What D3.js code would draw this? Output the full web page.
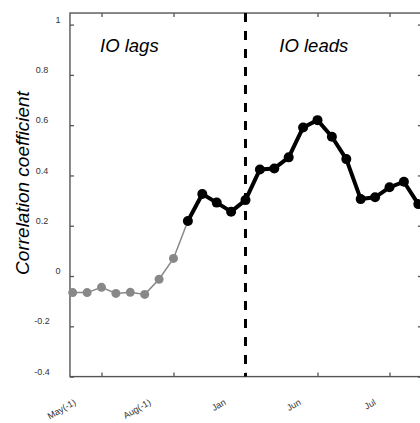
<!DOCTYPE html>
<html>
<head>
<meta charset="utf-8">
<script src="https://cdn.jsdelivr.net/npm/d3@7"></script>
<style>
  body { margin: 0; background: #fff; }
  text { font-family: "Liberation Sans", Arial, sans-serif; }
</style>
</head>
<body>
<div class="chart"></div>
<script>
// monthly correlation, index 0 = first month shown
const lagCorr = [-0.066, -0.066, -0.045, -0.069, -0.065, -0.073, -0.013, 0.070, 0.219]
const leadCorr = [0.219, 0.326, 0.292, 0.256, 0.302, 0.424, 0.428, 0.472, 0.591,
                  0.620, 0.554, 0.465, 0.306, 0.313, 0.353, 0.375, 0.286]
const leadStart = 8
const splitIndex = 12

const xTicks = [2, 7, 12, 17, 22]
const xTickLabels = ['May(-1)', 'Aug(-1)', 'Jan', 'Jun', 'Jul']
const yTicks = [-0.4, -0.2, 0, 0.2, 0.4, 0.6, 0.8, 1]

const W = 420
const H = 423

const x = d3.scaleLinear()
  .domain([0, 24])
  .range([72.7, 418.3])
const y = d3.scaleLinear()
  .domain([-0.4, 1])
  .range([376.6, 24.6])

const plotLeft = x(-0.19)
const plotRight = x(24.25)
const plotTop = y(1.046)
const plotBottom = y(-0.4)

const svg = d3.select('.chart')
  .append('svg')
    .attr('width', W)
    .attr('height', H)

const axisColor = '#555'

// ticks on all four sides, pointing inward
svg.append('g')
  .attr('transform', `translate(${plotLeft},0)`)
  .call(d3.axisLeft(y).tickValues(yTicks).tickSizeInner(-4).tickSizeOuter(0).tickFormat(''))
svg.append('g')
  .attr('transform', `translate(${plotRight},0)`)
  .call(d3.axisRight(y).tickValues(yTicks).tickSizeInner(-4).tickSizeOuter(0).tickFormat(''))
svg.append('g')
  .attr('transform', `translate(0,${plotBottom})`)
  .call(d3.axisBottom(x).tickValues(xTicks).tickSizeInner(-4).tickSizeOuter(0).tickFormat(''))
svg.append('g')
  .attr('transform', `translate(0,${plotTop})`)
  .call(d3.axisTop(x).tickValues(xTicks).tickSizeInner(-4).tickSizeOuter(0).tickFormat(''))

svg.selectAll('.domain').remove()
svg.selectAll('.tick line')
  .attr('stroke', axisColor)
  .attr('stroke-width', 1.3)

// frame
svg.append('rect')
  .attr('x', plotLeft)
  .attr('y', plotTop)
  .attr('width', plotRight - plotLeft)
  .attr('height', plotBottom - plotTop)
  .attr('fill', 'none')
  .attr('stroke', axisColor)
  .attr('stroke-width', 1.4)

// y tick labels
svg.append('g')
  .selectAll('text')
  .data(yTicks)
  .join('text')
    .attr('x', d => Number.isInteger(d) ? 58 : 42)
    .attr('y', d => y(d) - 5)
    .attr('dy', '0.35em')
    .attr('text-anchor', 'middle')
    .attr('font-size', 9)
    .attr('fill', '#333')
    .text(d => d)

// x tick labels, rotated
svg.append('g')
  .selectAll('text')
  .data(xTicks)
  .join('text')
    .attr('transform', (d, i) => `translate(${x(d) - 25 + 3 * i},404) rotate(-30)`)
    .attr('text-anchor', 'end')
    .attr('font-size', 9)
    .attr('fill', '#333')
    .text((d, i) => xTickLabels[i])

// axis title
svg.append('text')
  .attr('transform', `translate(29,${y(0.37)}) rotate(-90)`)
  .attr('text-anchor', 'middle')
  .attr('font-size', 19)
  .attr('font-style', 'italic')
  .text('Correlation coefficient')

// dashed split line
svg.append('line')
  .attr('x1', x(splitIndex))
  .attr('x2', x(splitIndex))
  .attr('y1', plotTop)
  .attr('y2', plotBottom)
  .attr('stroke', '#000')
  .attr('stroke-width', 3)
  .attr('stroke-dasharray', '9,9')

svg.append('text')
  .attr('x', x(1.9))
  .attr('y', 52)
  .attr('font-size', 18.5)
  .attr('font-style', 'italic')
  .text('IO lags')
svg.append('text')
  .attr('x', x(14.35))
  .attr('y', 52)
  .attr('font-size', 18.5)
  .attr('font-style', 'italic')
  .text('IO leads')

const line = d3.line()
  .x(d => x(d.i))
  .y(d => y(d.v))

const lagData = lagCorr.map((v, i) => ({i, v}))
const leadData = leadCorr.map((v, i) => ({i: i + leadStart, v}))

svg.append('path')
  .datum(lagData)
  .attr('d', line)
  .attr('fill', 'none')
  .attr('stroke', '#888')
  .attr('stroke-width', 1.5)
svg.append('g')
  .selectAll('circle')
  .data(lagData)
  .join('circle')
    .attr('cx', d => x(d.i))
    .attr('cy', d => y(d.v))
    .attr('r', 4.5)
    .attr('fill', '#888')

svg.append('path')
  .datum(leadData)
  .attr('d', line)
  .attr('fill', 'none')
  .attr('stroke', '#000')
  .attr('stroke-width', 4)
  .attr('stroke-linejoin', 'round')
svg.append('g')
  .selectAll('circle')
  .data(leadData)
  .join('circle')
    .attr('cx', d => x(d.i))
    .attr('cy', d => y(d.v))
    .attr('r', 5)
    .attr('fill', '#000')
</script>
</body>
</html>
